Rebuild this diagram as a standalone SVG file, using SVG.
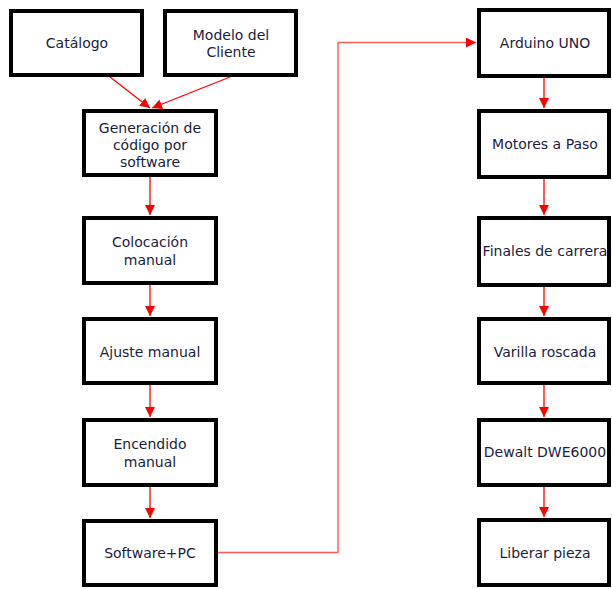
<svg xmlns="http://www.w3.org/2000/svg" width="612" height="589" viewBox="0 0 612 589">
  <style>
    .box { fill: #ffffff; stroke: #000000; stroke-width: 4; }
    .lbl { font-family: "DejaVu Sans", Verdana, sans-serif; font-size: 14px; fill: #1c1c3c; text-anchor: middle; dominant-baseline: central; }
    .wire { fill: none; stroke: #ff0000; stroke-width: 1.3; }
    .wire2 { fill: none; stroke: #ff5a5a; stroke-width: 1.4; }
  </style>
  <defs>
    <marker id="arrow" viewBox="0 0 10 10" refX="10" refY="5" markerWidth="10" markerHeight="10" markerUnits="userSpaceOnUse" orient="auto">
      <path d="M0,0 L10,5 L0,10 z" fill="#ff0000"/>
    </marker>
  </defs>
  <rect width="612" height="589" fill="#ffffff"/>

  <g id="connectors">
    <line class="wire" x1="110" y1="77" x2="150" y2="108" marker-end="url(#arrow)"/>
    <line class="wire" x1="230" y1="77" x2="152" y2="108" marker-end="url(#arrow)"/>
    <line class="wire" x1="150" y1="177" x2="150" y2="215" marker-end="url(#arrow)"/>
    <line class="wire" x1="150" y1="285" x2="150" y2="316" marker-end="url(#arrow)"/>
    <line class="wire" x1="150" y1="385" x2="150" y2="417" marker-end="url(#arrow)"/>
    <line class="wire" x1="150" y1="487" x2="150" y2="518" marker-end="url(#arrow)"/>
    <polyline class="wire2" points="218,552.5 338,552.5 338,42.5 476,42.5" marker-end="url(#arrow)"/>
    <line class="wire" x1="544" y1="78" x2="544" y2="108" marker-end="url(#arrow)"/>
    <line class="wire" x1="544" y1="179" x2="544" y2="215" marker-end="url(#arrow)"/>
    <line class="wire" x1="544" y1="287" x2="544" y2="316" marker-end="url(#arrow)"/>
    <line class="wire" x1="544" y1="385" x2="544" y2="417" marker-end="url(#arrow)"/>
    <line class="wire" x1="544" y1="487" x2="544" y2="517" marker-end="url(#arrow)"/>
  </g>

  <g id="catalogo">
    <rect class="box" x="11" y="11" width="131" height="64"/>
    <text class="lbl" x="77" y="43">Catálogo</text>
  </g>
  <g id="modelo-cliente">
    <rect class="box" x="165" y="11" width="131" height="64"/>
    <text class="lbl" x="231" y="35">Modelo del</text>
    <text class="lbl" x="231" y="52">Cliente</text>
  </g>
  <g id="generacion">
    <rect class="box" x="84" y="111" width="132" height="64"/>
    <text class="lbl" x="150" y="128">Generación de</text>
    <text class="lbl" x="150" y="145">código por</text>
    <text class="lbl" x="150" y="162">software</text>
  </g>
  <g id="colocacion">
    <rect class="box" x="84" y="218" width="132" height="65"/>
    <text class="lbl" x="150" y="242">Colocación</text>
    <text class="lbl" x="150" y="260">manual</text>
  </g>
  <g id="ajuste">
    <rect class="box" x="84" y="319" width="132" height="64"/>
    <text class="lbl" x="150" y="352">Ajuste manual</text>
  </g>
  <g id="encendido">
    <rect class="box" x="84" y="420" width="132" height="65"/>
    <text class="lbl" x="150" y="444">Encendido</text>
    <text class="lbl" x="150" y="462">manual</text>
  </g>
  <g id="software-pc">
    <rect class="box" x="84" y="521" width="132" height="64"/>
    <text class="lbl" x="150" y="553">Software+PC</text>
  </g>

  <g id="arduino">
    <rect class="box" x="479" y="10" width="130" height="66"/>
    <text class="lbl" x="545" y="43">Arduino UNO</text>
  </g>
  <g id="motores">
    <rect class="box" x="479" y="111" width="130" height="66"/>
    <text class="lbl" x="545" y="144">Motores a Paso</text>
  </g>
  <g id="finales">
    <rect class="box" x="479" y="218" width="130" height="67"/>
    <text class="lbl" x="545" y="251">Finales de carrera</text>
  </g>
  <g id="varilla">
    <rect class="box" x="479" y="319" width="130" height="64"/>
    <text class="lbl" x="545" y="352">Varilla roscada</text>
  </g>
  <g id="dewalt">
    <rect class="box" x="479" y="420" width="130" height="65"/>
    <text class="lbl" x="545" y="452">Dewalt DWE6000</text>
  </g>
  <g id="liberar">
    <rect class="box" x="479" y="520" width="130" height="65"/>
    <text class="lbl" x="545" y="553">Liberar pieza</text>
  </g>
</svg>
